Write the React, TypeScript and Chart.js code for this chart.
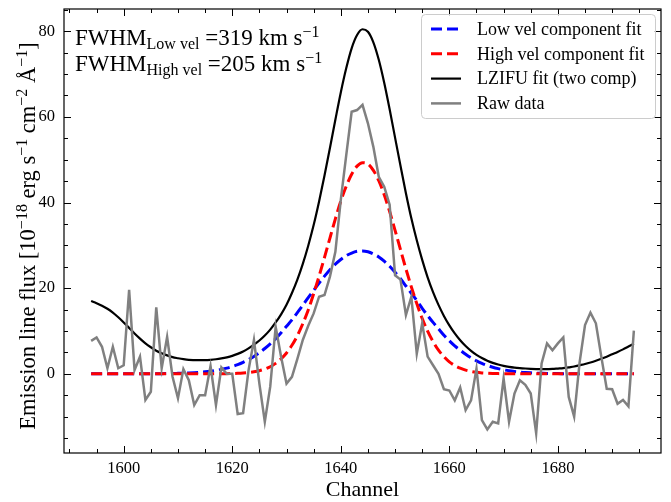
import React, { useEffect, useRef } from "react";
import { Chart, registerables } from "chart.js";

Chart.register(...registerables);

// ---------------- data ----------------
const channels = [
  1594, 1595, 1596, 1597, 1598, 1599, 1600, 1601, 1602, 1603,
  1604, 1605, 1606, 1607, 1608, 1609, 1610, 1611, 1612, 1613,
  1614, 1615, 1616, 1617, 1618, 1619, 1620, 1621, 1622, 1623,
  1624, 1625, 1626, 1627, 1628, 1629, 1630, 1631, 1632, 1633,
  1634, 1635, 1636, 1637, 1638, 1639, 1640, 1641, 1642, 1643,
  1644, 1645, 1646, 1647, 1648, 1649, 1650, 1651, 1652, 1653,
  1654, 1655, 1656, 1657, 1658, 1659, 1660, 1661, 1662, 1663,
  1664, 1665, 1666, 1667, 1668, 1669, 1670, 1671, 1672, 1673,
  1674, 1675, 1676, 1677, 1678, 1679, 1680, 1681, 1682, 1683,
  1684, 1685, 1686, 1687, 1688, 1689, 1690, 1691, 1692, 1693,
  1694,
];

const lowVelFit = [
  0, 0, 0, 0, 0, 0, 0, 0, 0, 0,
  0.01, 0.015, 0.02, 0.03, 0.05, 0.07, 0.1, 0.13, 0.18, 0.25,
  0.34, 0.45, 0.6, 0.79, 1.03, 1.32, 1.69, 2.13, 2.66, 3.3,
  4.05, 4.9, 5.9, 7.0, 8.2, 9.6, 11.1, 12.6, 14.3, 16.0,
  17.8, 19.5, 21.2, 22.8, 24.3, 25.6, 26.7, 27.6, 28.2, 28.6,
  28.7, 28.5, 28.0, 27.3, 26.3, 25.1, 23.7, 22.2, 20.5, 18.8,
  17.1, 15.3, 13.6, 12.0, 10.5, 9.0, 7.7, 6.5, 5.5, 4.55,
  3.73, 3.03, 2.45, 1.95, 1.53, 1.2, 0.93, 0.71, 0.54, 0.4,
  0.3, 0.22, 0.16, 0.12, 0.08, 0.06, 0.04, 0.03, 0.02, 0.01,
  0, 0, 0, 0, 0, 0, 0, 0, 0, 0,
  0,
];

const highVelFit = [
  0, 0, 0, 0, 0, 0, 0, 0, 0, 0,
  0, 0, 0, 0, 0, 0, 0, 0, 0, 0,
  0, 0, 0, 0.01, 0.02, 0.03, 0.06, 0.1, 0.17, 0.28,
  0.46, 0.72, 1.1, 1.65, 2.43, 3.48, 4.85, 6.66, 8.9, 11.7,
  14.9, 18.7, 22.8, 27.2, 31.7, 36.2, 40.3, 43.8, 46.6, 48.5,
  49.3, 49.0, 47.5, 45.1, 41.8, 37.9, 33.5, 29.0, 24.5, 20.3,
  16.4, 12.9, 9.96, 7.53, 5.52, 4.0, 2.8, 1.93, 1.3, 0.85,
  0.55, 0.34, 0.21, 0.13, 0.07, 0.04, 0.02, 0, 0, 0,
  0, 0, 0, 0, 0, 0, 0, 0, 0, 0,
  0, 0, 0, 0, 0, 0, 0, 0, 0, 0,
  0,
];

const lzifuFit = [
  17.0, 16.5, 15.9, 15.2, 14.3, 13.2, 12.0, 10.7, 9.4, 8.2,
  7.1, 6.2, 5.4, 4.8, 4.3, 3.9, 3.64, 3.41, 3.24, 3.19,
  3.17, 3.18, 3.26, 3.39, 3.59, 3.85, 4.19, 4.65, 5.21, 5.94,
  6.81, 7.77, 8.94, 10.32, 11.99, 13.89, 16.12, 18.86, 21.99, 25.67,
  29.92, 34.73, 40.25, 46.33, 52.75, 59.33, 65.72, 71.36, 76.02, 79.12,
  80.47, 79.88, 77.42, 73.33, 67.97, 61.77, 55.15, 48.58, 42.18, 36.3,
  31.17, 26.6, 22.53, 19.06, 16.09, 13.52, 11.31, 9.43, 7.83, 6.48,
  5.36, 4.42, 3.67, 3.05, 2.55, 2.16, 1.84, 1.61, 1.44, 1.32,
  1.23, 1.16, 1.11, 1.07, 1.1, 1.13, 1.22, 1.31, 1.51, 1.71,
  2.0, 2.3, 2.65, 3.05, 3.5, 4.0, 4.55, 5.1, 5.7, 6.35,
  7.0,
];

const rawData = [
  7.7, 8.5, 6.3, 1.3, 6.3, 1.3, 2.0, 19.6, 0.9, 4.0,
  -6.1, -4.2, 15.5, 1.3, 8.6, -0.7, -5.7, 1.1, -1.5, -7.3,
  -5.0, -5.0, 1.8, -7.3, 1.5, 0.0, 0.0, -9.4, -9.2, 0.8,
  7.9, -2.3, -11.2, -3.0, 11.0, 4.0, -2.3, -0.7, 3.5, 7.9,
  11.2, 14.1, 18.0, 18.4, 22.7, 28.5, 40.6, 51.0, 61.2, 61.6,
  62.8, 58.5, 53.0, 46.0, 43.7, 39.5, 23.0, 22.0, 13.7, 18.0,
  4.7, 11.8, 4.0, 2.0, 0.0, -3.6, -3.9, -6.2, -3.2, -8.5,
  -6.2, 1.2, -10.8, -13.0, -11.2, -11.6, -1.1, -11.2, -4.6, -1.5,
  -2.6, -4.6, -13.9, 2.4, 7.1, 5.5, 7.1, 8.5, -5.4, -10.0,
  2.6, 11.4, 14.3, 11.8, 4.0, -3.5, -3.6, -7.0, -6.1, -7.6,
  10.1,
];

const xMajorTicks = [1600, 1620, 1640, 1660, 1680];
const xMinorTicks = [1590, 1595, 1605, 1610, 1615, 1625, 1630, 1635, 1645, 1650, 1655, 1665, 1670, 1675, 1685, 1690, 1695];
const yMajorTicks = [0, 20, 40, 60, 80];
const yMinorTicks = [-15, -10, -5, 5, 10, 15, 25, 30, 35, 45, 50, 55, 65, 70, 75, 85];

const seriesLabels = ["Low vel component fit", "High vel component fit", "LZIFU fit (two comp)", "Raw data"];
const fwhmComponents = ["Low vel", "High vel"];
const fwhmValues = ["319", "205"];

// ---------------- drawing helpers ----------------
const SERIF = '"Liberation Serif", "Times New Roman", serif';
type Seg = { t: string; s: number; dy: number };

function segsWidth(ctx: CanvasRenderingContext2D, segs: Seg[]) {
  let w = 0;
  for (const g of segs) {
    ctx.font = `${g.s}px ${SERIF}`;
    w += ctx.measureText(g.t).width;
  }
  return w;
}

function drawSegs(ctx: CanvasRenderingContext2D, segs: Seg[], x: number, y: number) {
  let cx = x;
  for (const g of segs) {
    ctx.font = `${g.s}px ${SERIF}`;
    ctx.fillText(g.t, cx, y + g.dy);
    cx += ctx.measureText(g.t).width;
  }
}

const decorPlugin = {
  id: "decor",
  afterDraw(chart: any) {
    const ctx: CanvasRenderingContext2D = chart.ctx;
    const { left, right, top, bottom } = chart.chartArea;
    const xs = chart.scales.x;
    const ys = chart.scales.y;
    ctx.save();

    // frame
    ctx.strokeStyle = "#000";
    ctx.lineWidth = 1.2;
    ctx.strokeRect(left, top, right - left, bottom - top);

    // inward ticks on all sides
    ctx.lineWidth = 1;
    const tickX = (v: number, len: number) => {
      const p = Math.round(xs.getPixelForValue(v)) + 0.5;
      ctx.beginPath();
      ctx.moveTo(p, bottom);
      ctx.lineTo(p, bottom - len);
      ctx.moveTo(p, top);
      ctx.lineTo(p, top + len);
      ctx.stroke();
    };
    const tickY = (v: number, len: number) => {
      const p = Math.round(ys.getPixelForValue(v)) + 0.5;
      ctx.beginPath();
      ctx.moveTo(left, p);
      ctx.lineTo(left + len, p);
      ctx.moveTo(right, p);
      ctx.lineTo(right - len, p);
      ctx.stroke();
    };
    xMajorTicks.forEach((v) => tickX(v, 7));
    xMinorTicks.forEach((v) => tickX(v, 4));
    yMajorTicks.forEach((v) => tickY(v, 7));
    yMinorTicks.forEach((v) => tickY(v, 4));

    ctx.fillStyle = "#000";
    ctx.textBaseline = "alphabetic";
    ctx.textAlign = "left";

    // x title
    const xt: Seg[] = [{ t: "Channel", s: 22, dy: 0 }];
    const xw = segsWidth(ctx, xt);
    drawSegs(ctx, xt, (left + right) / 2 - xw / 2, 496);

    // y title (rotated)
    const yt: Seg[] = [
      { t: "Emission line flux [10", s: 22.5, dy: 0 },
      { t: "\u221218", s: 16, dy: -8 },
      { t: " erg s", s: 22.5, dy: 0 },
      { t: "\u22121", s: 16, dy: -8 },
      { t: " cm", s: 22.5, dy: 0 },
      { t: "\u22122", s: 16, dy: -8 },
      { t: " \u00C5", s: 22.5, dy: 0 },
      { t: "\u22121", s: 16, dy: -8 },
      { t: "]", s: 22.5, dy: 0 },
    ];
    const yw = segsWidth(ctx, yt);
    ctx.save();
    ctx.translate(35, (top + bottom) / 2 + 5);
    ctx.rotate(-Math.PI / 2);
    drawSegs(ctx, yt, -yw / 2, 0);
    ctx.restore();

    // FWHM annotation
    fwhmComponents.forEach((comp, i) => {
      const segs: Seg[] = [
        { t: "FWHM", s: 23, dy: 0 },
        { t: comp, s: 16, dy: 4 },
        { t: " =" + fwhmValues[i] + " km s", s: 23, dy: 0 },
        { t: "\u22121", s: 16, dy: -8 },
      ];
      drawSegs(ctx, segs, left + 11, top + 36 + i * 25.5);
    });

    // legend
    const bx = right - 240;
    const by = top + 5;
    const bw = 234;
    const bh = 104;
    ctx.beginPath();
    ctx.roundRect(bx + 0.5, by + 0.5, bw, bh, 4);
    ctx.fillStyle = "rgba(255,255,255,0.8)";
    ctx.fill();
    ctx.strokeStyle = "#cccccc";
    ctx.lineWidth = 1;
    ctx.stroke();
    const dsets = chart.data.datasets;
    dsets.forEach((ds: any, i: number) => {
      const ry = by + 15 + i * 24.8;
      ctx.save();
      ctx.strokeStyle = ds.borderColor;
      ctx.lineWidth = ds.borderWidth;
      ctx.setLineDash(ds.borderDash || []);
      ctx.beginPath();
      ctx.moveTo(bx + 10, ry);
      ctx.lineTo(bx + 40, ry);
      ctx.stroke();
      ctx.restore();
      ctx.fillStyle = "#000";
      ctx.font = `18px ${SERIF}`;
      ctx.textBaseline = "middle";
      ctx.fillText(ds.label, bx + 56, ry + 1);
    });

    ctx.restore();
  },
};

function toPoints(vals: number[]) {
  return channels.map((c, i) => ({ x: c, y: vals[i] }));
}

export default function App() {
  const ref = useRef<HTMLCanvasElement | null>(null);

  useEffect(() => {
    if (!ref.current) return;
    const tickFont = { family: "Liberation Serif", size: 16.5 };
    const chart = new Chart(ref.current, {
      type: "line",
      data: {
        datasets: [
          {
            label: seriesLabels[0],
            data: toPoints(lowVelFit),
            borderColor: "#0000ff",
            borderWidth: 3,
            borderDash: [11, 5],
            pointRadius: 0,
            cubicInterpolationMode: "monotone",
            order: 3,
          },
          {
            label: seriesLabels[1],
            data: toPoints(highVelFit),
            borderColor: "#ff0000",
            borderWidth: 3,
            borderDash: [11, 5],
            pointRadius: 0,
            cubicInterpolationMode: "monotone",
            order: 2,
          },
          {
            label: seriesLabels[2],
            data: toPoints(lzifuFit),
            borderColor: "#000000",
            borderWidth: 2.2,
            pointRadius: 0,
            cubicInterpolationMode: "monotone",
            order: 1,
          },
          {
            label: seriesLabels[3],
            data: toPoints(rawData),
            borderColor: "#808080",
            borderWidth: 2.5,
            pointRadius: 0,
            tension: 0,
            order: 0,
          },
        ],
      },
      options: {
        responsive: false,
        devicePixelRatio: 1,
        animation: false,
        events: [],
        layout: { padding: { left: 0, right: 10, top: 9, bottom: 0 } },
        plugins: { legend: { display: false }, tooltip: { enabled: false } },
        scales: {
          x: {
            type: "linear",
            min: 1589,
            max: 1699,
            grid: { display: false, drawTicks: false },
            border: { display: false },
            ticks: {
              font: tickFont,
              color: "#000",
              padding: 6,
              maxRotation: 0,
              autoSkip: false,
              callback: (v: any) => String(v),
            },
            afterBuildTicks: (s: any) => {
              s.ticks = xMajorTicks.map((v) => ({ value: v }));
            },
            afterFit: (s: any) => {
              s.height = 49;
              s.paddingLeft = 0;
              s.paddingRight = 0;
            },
          },
          y: {
            type: "linear",
            min: -18.5,
            max: 85.2,
            grid: { display: false, drawTicks: false },
            border: { display: false },
            ticks: {
              font: tickFont,
              color: "#000",
              padding: 9,
              autoSkip: false,
              callback: (v: any) => String(v),
            },
            afterBuildTicks: (s: any) => {
              s.ticks = yMajorTicks.map((v) => ({ value: v }));
            },
            afterFit: (s: any) => {
              s.width = 64;
              s.paddingTop = 0;
              s.paddingBottom = 0;
            },
          },
        },
      },
      plugins: [decorPlugin],
    } as any);
    return () => chart.destroy();
  }, []);

  return (
    <div style={{ position: "absolute", left: 0, top: 0, width: 671, height: 502, background: "#fff" }}>
      <canvas ref={ref} width={671} height={502} style={{ display: "block" }} />
    </div>
  );
}
